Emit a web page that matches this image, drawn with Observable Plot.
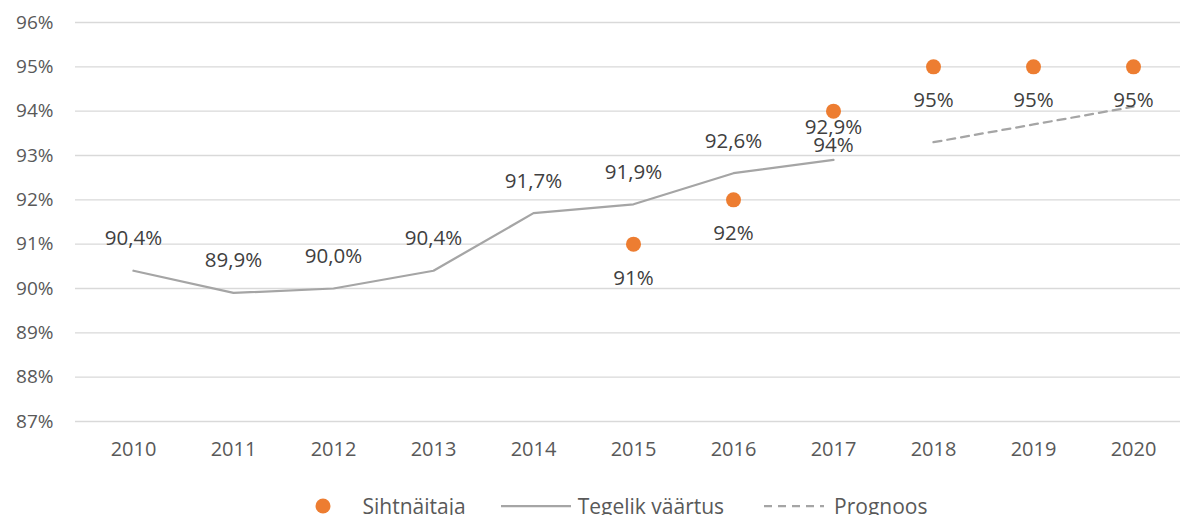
<!DOCTYPE html>
<html><head><meta charset="utf-8">
<script src="https://cdn.jsdelivr.net/npm/d3@7"></script>
<script src="https://cdn.jsdelivr.net/npm/@observablehq/plot@0.6"></script>
<style>
body{margin:0;background:#fff;font-family:"Open Sans",sans-serif;}
#legend{display:flex;justify-content:center;align-items:center;padding-top:13px;padding-left:58px;font-size:21px;color:#595959;height:25px;white-space:nowrap;}
#legend .item{display:flex;align-items:center;}
</style></head><body>
<div id="chart"></div>
<div id="legend"></div>
<script>
const years = ["2010","2011","2012","2013","2014","2015","2016","2017","2018","2019","2020"];
const actualYears = ["2010","2011","2012","2013","2014","2015","2016","2017"];
const actualValues = [90.4, 89.9, 90.0, 90.4, 91.7, 91.9, 92.6, 92.9];
const targetYears = ["2015","2016","2017","2018","2019","2020"];
const targetValues = [91, 92, 94, 95, 95, 95];
const forecastYears = ["2018","2019","2020"];
const forecastValues = [93.3, 93.7, 94.1];
const yTicks = [87,88,89,90,91,92,93,94,95,96];

const actual = actualYears.map((y,i)=>({year:y, value:actualValues[i]}));
const target = targetYears.map((y,i)=>({year:y, value:targetValues[i]}));
const forecast = forecastYears.map((y,i)=>({year:y, value:forecastValues[i]}));
const fmt1 = v => v.toFixed(1).replace(".", ",") + "%";
const fmt0 = v => v.toFixed(0) + "%";

const chart = Plot.plot({
  width: 1184, height: 480,
  marginLeft: 75, marginRight: 4, marginTop: 22, marginBottom: 59,
  style: {fontFamily: "'Open Sans', sans-serif", fontSize: "19px", color: "#595959"},
  x: {type: "point", domain: years, range: [133, 1133], padding: 0, label: null},
  y: {domain: [87, 96], label: null},
  marks: [
    Plot.ruleY(yTicks, {stroke: "#D9D9D9", strokeWidth: 1.3}),
    Plot.axisY({ticks: yTicks, tickSize: 0, tickPadding: 22, tickFormat: d => d + "%", fontSize: 19, fill: "#595959"}),
    Plot.axisX({tickSize: 0, tickPadding: 20, fontSize: 20, fill: "#595959"}),
    Plot.line(actual, {x: "year", y: "value", stroke: "#A5A5A5", strokeWidth: 2.25}),
    Plot.line(forecast, {x: "year", y: "value", stroke: "#A5A5A5", strokeWidth: 2.25, strokeDasharray: "8,6"}),
    Plot.dot(target, {x: "year", y: "value", r: 7.5, fill: "#ED7D31", stroke: null}),
    Plot.text(actual, {x: "year", y: "value", text: d => fmt1(d.value), dy: -32, fontSize: 20.5, fill: "#404040"}),
    Plot.text(target, {x: "year", y: "value", text: d => fmt0(d.value), dy: 34, fontSize: 20.5, fill: "#404040"})
  ]
});
document.getElementById("chart").appendChild(chart);

const legendItems = [
  {label: "Sihtnäitaja", type: "dot"},
  {label: "Tegelik väärtus", type: "line"},
  {label: "Prognoos", type: "dash"}
];
const lg = document.getElementById("legend");
legendItems.forEach((it, i) => {
  const d = document.createElement("div");
  d.className = "item";
  let sw;
  if (it.type === "dot") sw = `<svg width="48" height="20"><circle cx="8" cy="10" r="7.5" fill="#ED7D31"/></svg>`;
  else if (it.type === "line") sw = `<svg width="77" height="20" style="margin-left:35px"><line x1="0" x2="70" y1="10" y2="10" stroke="#A5A5A5" stroke-width="2.25"/></svg>`;
  else sw = `<svg width="70" height="20" style="margin-left:40px"><line x1="0" x2="60" y1="10" y2="10" stroke="#A5A5A5" stroke-width="2.25" stroke-dasharray="8,6"/></svg>`;
  d.innerHTML = sw + `<span>${it.label}</span>`;
  lg.appendChild(d);
});
</script>
</body></html>
